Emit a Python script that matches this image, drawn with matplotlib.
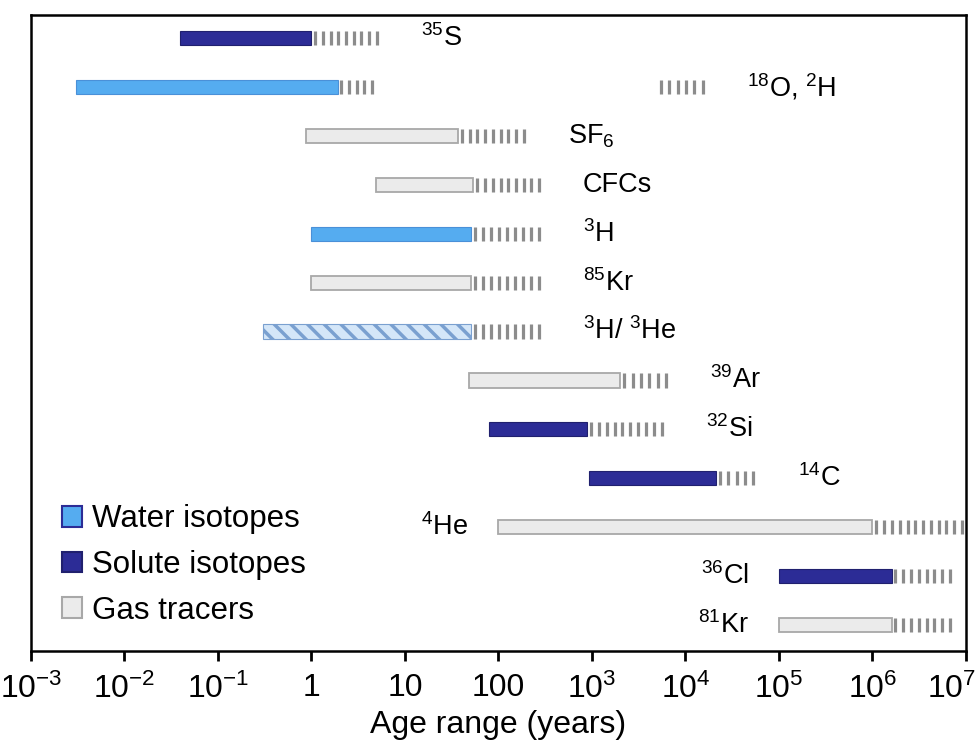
import numpy as np
import matplotlib
matplotlib.use("Agg")
import matplotlib.pyplot as plt
import matplotlib.transforms as mtrans
from matplotlib.patches import Patch

# ---------------- data ----------------
tracers = ["$^{35}$S", "$^{18}$O, $^{2}$H", "SF$_{6}$", "CFCs", "$^{3}$H", "$^{85}$Kr",
           "$^{3}$H/ $^{3}$He", "$^{39}$Ar", "$^{32}$Si", "$^{14}$C", "$^{4}$He",
           "$^{36}$Cl", "$^{81}$Kr"]
groups = ["solute", "water", "gas", "gas", "water", "gas", "water_he",
          "gas", "solute", "solute", "gas", "solute", "gas"]
range_start = [0.039, 0.003, 0.88, 4.9, 1.0, 1.0, 0.3, 49, 80, 920, 100, 1.0e5, 1.0e5]
range_end = [1.0, 1.9, 37, 54, 51, 51, 51, 2000, 880, 2.1e4, 1.0e6, 1.6e6, 1.6e6]
extended_end = [5.5, 4.9, 205, 300, 300, 300, 300, 6900, 6200, 5.9e4, 1.0e7, 7.4e6, 7.4e6]
o18_extra_segment = [4900, 17000]
label_side = ["right"] * 10 + ["left"] * 3
tick_values = [1e-3, 1e-2, 1e-1, 1, 10, 100, 1e3, 1e4, 1e5, 1e6, 1e7]
tick_labels = ["10$^{-3}$", "10$^{-2}$", "10$^{-1}$", "1", "10", "100",
               "10$^{3}$", "10$^{4}$", "10$^{5}$", "10$^{6}$", "10$^{7}$"]
legend_labels = ["Water isotopes", "Solute isotopes", "Gas tracers"]

# ---------------- style ----------------
plt.rcParams["font.family"] = ["Liberation Sans", "DejaVu Sans"]
plt.rcParams["mathtext.fontset"] = "custom"
plt.rcParams["mathtext.rm"] = "Liberation Sans"
plt.rcParams["mathtext.it"] = "Liberation Sans:italic"
plt.rcParams["mathtext.bf"] = "Liberation Sans:bold"
plt.rcParams["mathtext.default"] = "regular"
plt.rcParams["hatch.linewidth"] = 2.5

WATER = "#55acf0"
WATER_EDGE = "#4a90d8"
SOLUTE = "#2c2c96"
SOLUTE_EDGE = "#20206e"
GAS = "#ebebeb"
GAS_EDGE = "#a8a8a8"
DASH = "#8c8c8c"

style = {
    "water": dict(color=WATER, edgecolor=WATER_EDGE, linewidth=0.8),
    "solute": dict(color=SOLUTE, edgecolor=SOLUTE_EDGE, linewidth=0.8),
    "gas": dict(color=GAS, edgecolor=GAS_EDGE, linewidth=1.3),
    "water_he": dict(color="#d4e6f8", edgecolor="#7aa0d0", linewidth=0.8, hatch="\\\\"),
}

fig = plt.figure(figsize=(9.77, 7.46), dpi=100)
ax = fig.add_axes([0.0317, 0.1273, 0.9570, 0.8526])
ax.set_xscale("log")
ax.set_xlim(1e-3, 1e7)
n = len(tracers)
ax.set_ylim(n - 0.47, -0.47)

bar_h = 0.29
px_per_decade = 93.4
dash_spacing = 8.0


def draw_dashes(y, start, end):
    nd = max(2, int(round(np.log10(end / start) * px_per_decade / dash_spacing)))
    frac = (np.arange(nd) + 0.5) / nd
    xs = start * (end / start) ** frac
    ax.vlines(xs, y - bar_h / 2, y + bar_h / 2, colors=DASH, linewidth=2.3)


for i in range(n):
    s, e, ee = range_start[i], range_end[i], extended_end[i]
    ax.barh(i, e - s, left=s, height=bar_h, **style[groups[i]], zorder=3)
    draw_dashes(i, e, ee)
    if i == 1:
        anchor = o18_extra_segment[1]
    else:
        anchor = ee
    if label_side[i] == "right":
        ax.annotate(tracers[i], xy=(anchor, i), xytext=(40, 0), textcoords="offset pixels",
                    ha="left", va="center", fontsize=19.5)
    else:
        ax.annotate(tracers[i], xy=(s, i), xytext=(-30, 0), textcoords="offset pixels",
                    ha="right", va="center", fontsize=19.5)

# separate extended range for 18O/2H (index 1)
draw_dashes(1, o18_extra_segment[0], o18_extra_segment[1])

# axes styling
ax.set_xticks(tick_values)
ax.set_xticklabels(tick_labels, fontsize=23)
ax.xaxis.set_minor_locator(matplotlib.ticker.LogLocator(base=10, subs=np.arange(2, 10)))
ax.xaxis.set_minor_formatter(matplotlib.ticker.NullFormatter())
ax.tick_params(axis="x", which="major", direction="out", length=7, width=2, pad=9)
ax.tick_params(axis="x", which="minor", direction="out", length=4.5, width=2)
ax.set_yticks([])
for sp in ax.spines.values():
    sp.set_linewidth(1.8)
ax.set_xlabel("Age range (years)", fontsize=23, labelpad=4)

# keep the last tick label inside the figure
last = ax.get_xticklabels()[-1]
last.set_horizontalalignment("right")
last.set_transform(last.get_transform() + mtrans.ScaledTranslation(10 / 100, 0, fig.dpi_scale_trans))

handles = [Patch(facecolor=WATER, edgecolor=SOLUTE, linewidth=1.5),
           Patch(facecolor=SOLUTE, edgecolor=SOLUTE_EDGE, linewidth=1.5),
           Patch(facecolor=GAS, edgecolor=GAS_EDGE, linewidth=1.5)]
ax.legend(handles, legend_labels, loc="lower left", bbox_to_anchor=(0.033, 0.04),
          frameon=False, fontsize=22.5, handlelength=0.65, handleheight=0.65,
          handletextpad=0.3, labelspacing=0.5, borderaxespad=0, borderpad=0)

fig.savefig("out.png", dpi=100)
